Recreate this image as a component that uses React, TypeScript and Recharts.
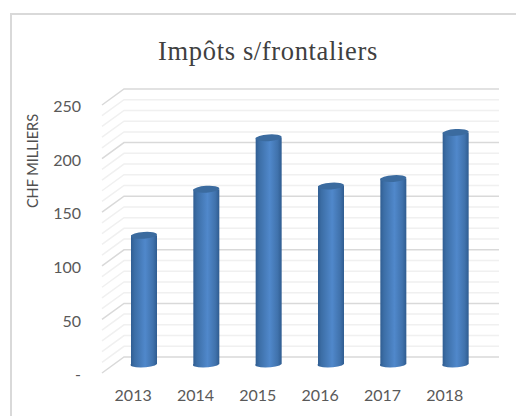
import React from "react";
import { ComposedChart, Bar, Line, XAxis, YAxis, CartesianGrid, Label } from "recharts";

const years = ["2013", "2014", "2015", "2016", "2017", "2018"];
const values = [120, 163, 211, 166, 173, 216];
const majorTicks = [0, 50, 100, 150, 200, 250];
const gridValues = [10, 20, 30, 40, 60, 70, 80, 90, 110, 120, 130, 140, 160, 170, 180, 190, 210, 220, 230, 240];
const data = years.map((year, i) => ({ year, value: values[i] }));

const GridLine = (major: boolean) => (props: any) => {
  const { x1, x2, y1, key } = props;
  const a = x1;
  const b = a + 22;
  const y = y1;
  return (
    <polyline
      key={key}
      points={`${a},${y} ${b},${y - 16} ${x2},${y - 16}`}
      fill="none"
      stroke={major ? "#d9d9d9" : "#f0f0f0"}
      strokeWidth={1.5}
    />
  );
};

const Cylinder = (props: any) => {
  const { x, y, width, height } = props;
  const rx = width / 2;
  const ry = 3.4;
  const cx = x + rx;
  const bottom = y + height;
  return (
    <g>
      <path
        d={`M${x},${y} L${x},${bottom} A${rx},${ry} -4 0 0 ${x + width},${bottom} L${x + width},${y} Z`}
        fill="url(#cyl)"
      />
      <ellipse cx={cx} cy={y} rx={rx} ry={ry} fill="#3b6b9f" transform={`rotate(-4 ${cx} ${y})`} />
    </g>
  );
};

const YTitle = () => (
  <text
    transform="translate(38,161) rotate(-90)"
    textAnchor="middle"
    fill="#505050"
    fontSize={14.5}
    fontFamily="Lato"
  >
    CHF MILLIERS
  </text>
);

export default function App() {
  return (
    <div style={{ position: "absolute", left: 0, top: 0, width: 516, height: 416, background: "#fff", overflow: "hidden" }}>
      <div style={{ position: "absolute", left: 10, top: 13, width: 506, height: 2, background: "#d9d9d9" }} />
      <div style={{ position: "absolute", left: 10, top: 13, width: 2, height: 403, background: "#d9d9d9" }} />
      <div
        style={{
          position: "absolute",
          left: 10,
          width: 516,
          top: 36,
          textAlign: "center",
          fontFamily: "'Liberation Serif', serif",
          fontSize: 26.5,
          letterSpacing: 0.65,
          lineHeight: "30px",
          color: "#404040",
        }}
      >
        Impôts s/frontaliers
      </div>
      <ComposedChart
        width={516}
        height={416}
        data={data}
        margin={{ top: 105, right: 17, bottom: 0, left: 0 }}
        style={{ position: "absolute", left: 0, top: 0 }}
      >
        <defs>
          <linearGradient id="cyl" x1="0" y1="0" x2="1" y2="0">
            <stop offset="0" stopColor="#2f5c90" />
            <stop offset="0.15" stopColor="#3c6ea6" />
            <stop offset="0.55" stopColor="#5088cb" />
            <stop offset="0.85" stopColor="#4072ac" />
            <stop offset="1" stopColor="#2f5c90" />
          </linearGradient>
        </defs>
        <XAxis
          xAxisId="labels"
          dataKey="year"
          padding={{ left: 0, right: 23 }}
          axisLine={false}
          tickLine={false}
          height={43}
          tickMargin={11}
          tick={{ fill: "#595959", fontSize: 16, fontFamily: "Lato" }}
        />
        <XAxis xAxisId="bars" dataKey="year" hide height={0} padding={{ left: 11, right: 12 }} />
        <YAxis
          yAxisId="grid"
          domain={[0, 250]}
          ticks={majorTicks}
          width={102}
          axisLine={false}
          tickLine={false}
          interval={0}
          tickFormatter={(v: number) => (v === 0 ? "-" : String(v))}
          tick={{ fill: "#595959", fontSize: 16, fontFamily: "Lato", dy: 1.5 }}
          tickMargin={15}
        >
          <Label content={YTitle} />
        </YAxis>
        <YAxis yAxisId="bars" hide width={0} domain={[-8.4, 241.6]} allowDataOverflow />
        <CartesianGrid
          xAxisId="labels"
          yAxisId="grid"
          vertical={false}
          horizontalValues={gridValues}
          horizontal={GridLine(false)}
          syncWithTicks={false}
        />
        <CartesianGrid
          xAxisId="labels"
          yAxisId="grid"
          vertical={false}
          horizontalValues={majorTicks}
          horizontal={GridLine(true)}
          syncWithTicks={false}
        />
        <Line xAxisId="labels" yAxisId="grid" dataKey="value" stroke="none" dot={false} legendType="none" isAnimationActive={false} />
        <Bar
          xAxisId="bars"
          yAxisId="bars"
          dataKey="value"
          barSize={26}
          isAnimationActive={false}
          shape={Cylinder}
        />
      </ComposedChart>
    </div>
  );
}
